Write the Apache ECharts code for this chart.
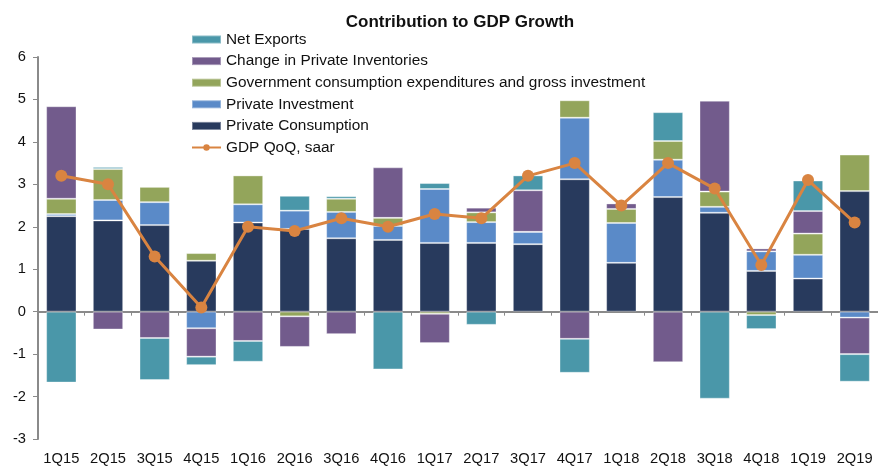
<!DOCTYPE html>
<html>
<head>
<meta charset="utf-8">
<script src="https://cdn.jsdelivr.net/npm/echarts@6/dist/echarts.min.js"></script>
<style>
  html, body { margin: 0; padding: 0; background: #fff; }
  #chart { width: 878px; height: 466px; }
</style>
</head>
<body>
<div id="chart"></div>
<script>
// Quarterly contributions to real GDP growth (percentage points, saar)
const quarters = ['1Q15','2Q15','3Q15','4Q15','1Q16','2Q16','3Q16','4Q16','1Q17','2Q17','3Q17','4Q17','1Q18','2Q18','3Q18','4Q18','1Q19','2Q19'];

const privateConsumption = [2.25, 2.15, 2.04, 1.20, 2.10, 1.95, 1.73, 1.69, 1.62, 1.62, 1.59, 3.12, 1.15, 2.70, 2.33, 0.96, 0.78, 2.84];
const privateInvestment  = [0.05, 0.48, 0.54, -0.39, 0.43, 0.43, 0.62, 0.33, 1.27, 0.49, 0.29, 1.45, 0.94, 0.88, 0.14, 0.46, 0.56, -0.14];
const government         = [0.36, 0.73, 0.36, 0.18, 0.68, -0.11, 0.31, 0.19, -0.05, 0.23, 0.00, 0.41, 0.33, 0.44, 0.36, -0.08, 0.50, 0.86];
const inventories        = [2.18, -0.42, -0.62, -0.67, -0.69, -0.72, -0.53, 1.19, -0.69, 0.11, 0.98, -0.64, 0.13, -1.19, 2.14, 0.07, 0.53, -0.86];
const netExports         = [-1.67, 0.05, -0.99, -0.20, -0.49, 0.35, 0.06, -1.36, 0.14, -0.31, 0.35, -0.80, 0.00, 0.68, -2.05, -0.33, 0.72, -0.65];
const gdpQoQ             = [3.2, 3.0, 1.3, 0.1, 2.0, 1.9, 2.2, 2.0, 2.3, 2.2, 3.2, 3.5, 2.5, 3.5, 2.9, 1.1, 3.1, 2.1];

const yTicks = { min: -3, max: 6, step: 1 };

const names = {
  pc: 'Private Consumption',
  pi: 'Private Investment',
  gov: 'Government consumption expenditures and gross investment',
  inv: 'Change in Private Inventories',
  nx: 'Net Exports',
  gdp: 'GDP QoQ, saar'
};

const colors = {
  pc: '#283a5d',
  pi: '#5a8ac8',
  gov: '#93a55b',
  inv: '#725b8c',
  nx: '#4a97a9',
  gdp: '#d98441'
};

const axisGrey = '#8a8a8a';
const textColor = '#111';
const font = 'Liberation Sans, Arial, sans-serif';

function barSeries(key, values) {
  return {
    name: names[key],
    type: 'bar',
    stack: 'contrib',
    xAxisIndex: 0,
    data: values,
    barWidth: '65%',
    itemStyle: {
      color: colors[key],
      borderColor: 'rgba(255,255,255,0.35)',
      borderWidth: 1
    },
    emphasis: { disabled: true }
  };
}

const chart = echarts.init(document.getElementById('chart'), null, { renderer: 'canvas' });

chart.setOption({
  animation: false,
  backgroundColor: '#fff',
  title: {
    text: 'Contribution to GDP Growth',
    left: 455,
    textAlign: 'center',
    top: 9,
    textStyle: { fontFamily: font, fontSize: 17, fontWeight: 'bold', color: textColor }
  },
  legend: {
    orient: 'vertical',
    left: 186,
    top: 27,
    itemWidth: 29,
    itemHeight: 8,
    itemGap: 6.6,
    textStyle: { fontFamily: font, fontSize: 15.4, color: textColor },
    data: [
      { name: names.nx, icon: 'rect' },
      { name: names.inv, icon: 'rect' },
      { name: names.gov, icon: 'rect' },
      { name: names.pi, icon: 'rect' },
      { name: names.pc, icon: 'rect' },
      { name: names.gdp }
    ]
  },
  grid: { left: 38, right: -6, top: 57, bottom: 25, containLabel: false },
  xAxis: [
    {
      type: 'category',
      data: quarters,
      position: 'bottom',
      axisLine: { show: false, onZero: false },
      axisTick: { show: false },
      axisLabel: { fontFamily: font, fontSize: 14.7, color: textColor, margin: 12, interval: 0 }
    },
    {
      type: 'category',
      data: quarters,
      position: 'bottom',
      axisLine: { show: true, onZero: true, lineStyle: { color: axisGrey, width: 2 } },
      axisTick: { show: true, length: 4, alignWithLabel: false, lineStyle: { color: axisGrey, width: 1 } },
      axisLabel: { show: false },
      splitLine: { show: false }
    }
  ],
  yAxis: {
    type: 'value',
    min: yTicks.min,
    max: yTicks.max,
    interval: yTicks.step,
    axisLine: { show: true, lineStyle: { color: axisGrey, width: 2 } },
    axisTick: { show: true, length: 5, lineStyle: { color: axisGrey, width: 1 } },
    splitLine: { show: false },
    axisLabel: { fontFamily: font, fontSize: 14.7, color: textColor, margin: 12 }
  },
  series: [
    barSeries('pc', privateConsumption),
    barSeries('pi', privateInvestment),
    barSeries('gov', government),
    barSeries('inv', inventories),
    barSeries('nx', netExports),
    {
      name: names.gdp,
      type: 'line',
      xAxisIndex: 0,
      data: gdpQoQ,
      symbol: 'circle',
      symbolSize: 12,
      z: 5,
      lineStyle: { color: colors.gdp, width: 3 },
      itemStyle: { color: colors.gdp },
      emphasis: { disabled: true }
    }
  ]
});
</script>
</body>
</html>
